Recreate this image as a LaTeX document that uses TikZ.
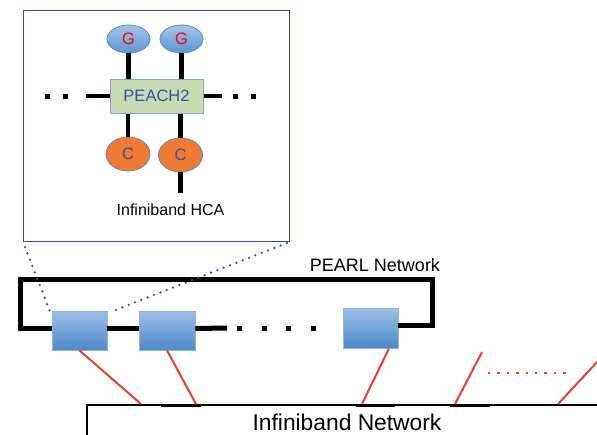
\documentclass[tikz,border=0pt]{standalone}
\usepackage{fontspec}
\setmainfont{Liberation Sans}
\usetikzlibrary{shapes.geometric}
\definecolor{navyb}{HTML}{3A4A98}
\definecolor{gtop}{HTML}{A3C7EC}
\definecolor{gbot}{HTML}{5B95D4}
\definecolor{gedge}{HTML}{5C88C0}
\definecolor{peachfill}{HTML}{C8DAB2}
\definecolor{peachedge}{HTML}{8AA6C6}
\definecolor{cfill}{HTML}{EF7A30}
\definecolor{ctext}{HTML}{2F55A8}
\definecolor{redl}{HTML}{E84030}
\definecolor{ntop}{HTML}{9CC0E6}
\definecolor{nbot}{HTML}{4D89CB}
\definecolor{nedge}{HTML}{8FB4DC}
\tikzset{
  gnode/.style={ellipse, draw=gedge, line width=0.8pt, top color=gtop, bottom color=gbot,
    minimum width=43pt, minimum height=28pt, inner sep=0pt, text=red, font=\fontsize{16.5}{16.5}\selectfont},
  cnode/.style={ellipse, draw=gedge, line width=0.8pt, fill=cfill,
    minimum width=44pt, minimum height=34pt, inner sep=0pt, text=ctext, font=\fontsize{16.5}{16.5}\selectfont},
  peachbox/.style={rectangle, draw=peachedge, line width=1pt, fill=peachfill,
    minimum width=93pt, minimum height=34pt, inner sep=0pt, text=ctext, font=\fontsize{16.5}{16.5}\selectfont},
  pearlnode/.style={rectangle, draw=nedge, line width=0.8pt, top color=ntop, bottom color=nbot,
    minimum width=55pt, minimum height=39pt, inner sep=0pt},
  bar/.style={line width=4.5pt, black},
  ring/.style={line width=5pt, black, line join=miter},
  bigdots/.style={line width=5pt, black, dash pattern=on 5pt off 12.5pt},
  ringdots/.style={line width=5pt, black, dash pattern=on 5pt off 19.7pt},
  navydots/.style={line width=2.5pt, navyb, line cap=round, dash pattern=on 0pt off 6.8pt},
  redline/.style={line width=2pt, redl},
  reddots/.style={line width=2.6pt, redl, dash pattern=on 2.4pt off 7pt},
  label/.style={inner sep=0pt, anchor=base, text=black}
}
\begin{document}
\begin{tikzpicture}[x=1pt,y=-1pt]
\clip (0,0) rectangle (597,434);
\fill[white] (0,0) rectangle (597,434);

% inset box
\draw[navyb, line width=1pt] (23,10) rectangle (289,241);
\coordinate (boxbl) at (25,247);
\coordinate (boxbr) at (287,243);

% inset nodes
\node[peachbox] (p) at (156.5,96) {PEACH2};
\node[gnode] (g1) at (128.5,39) {G};
\node[gnode] (g2) at (181.5,39) {G};
\node[cnode] (c1) at (128,154) {C};
\node[cnode] (c2) at (180.5,155) {C};
\draw[bar] (g1.south) -- (g1.south |- p.north);
\draw[bar] (g2.south) -- (g2.south |- p.north);
\draw[bar] (c1.north) -- (c1.north |- p.south);
\draw[bar] (c2.north) -- (c2.north |- p.south);
\coordinate (hcaend) at (180.5,193);
\draw[bar] (c2.south) -- (hcaend);
\coordinate (pl) at (86,96);
\coordinate (pr) at (222,96);
\draw[bar] (p.west) -- (pl);
\draw[bar] (p.east) -- (pr);
\coordinate (pldots) at (45,96);
\coordinate (pldotsend) at (70,96);
\draw[bigdots] (pldots) -- (pldotsend);
\coordinate (prdots) at (233,96);
\coordinate (prdotsend) at (256,96);
\draw[bigdots] (prdots) -- (prdotsend);
\node[label, font=\fontsize{16}{16}\selectfont] (hca) at (170.5,215) {Infiniband HCA};

% PEARL network
\node[pearlnode] (n1) at (79.5,330.5) {};
\node[pearlnode, minimum width=56pt] (n2) at (167,330.5) {};
\node[pearlnode, minimum height=40pt] (n3) at (370.5,328) {};
\coordinate (rl) at (20,279);
\coordinate (rr) at (432,279);
\draw[ring] ([yshift=2pt]n1.west) -| (rl) -- (rr) |- ([yshift=3pt]n3.east);
\draw[ring] ([yshift=2pt]n1.east) -- ([yshift=2pt]n2.west);
\coordinate (segend) at (227,328);
\draw[ring] ([yshift=2pt]n2.east) -- (segend);
\coordinate (dotstart) at (237,328);
\coordinate (dotend) at (318,328);
\draw[ringdots] (dotstart) -- (dotend);
\node[label, font=\fontsize{18}{18}\selectfont] (pearl) at (375,271) {PEARL Network};

% dotted zoom lines
\draw[navydots] (boxbl) -- ([shift={(-2pt,0pt)}]n1.north west);
\draw[navydots] (boxbr) -- ([shift={(4pt,-1pt)}]n1.north east);

% Infiniband network
\draw[black, line width=1.3pt] (87,440) -- (87,405) -- (610,405);
\foreach \a/\b in {161/201, 356/395, 450/490}
  \draw[black, line width=3pt] (\a,405.8) -- (\b,405.8);
\node[label, font=\fontsize{22.8}{22.8}\selectfont] (ibnet) at (347,430) {Infiniband Network};
\coordinate (ib1) at (141,404);
\coordinate (ib2) at (196,404);
\coordinate (ib3) at (362,404);
\coordinate (ib4) at (455,404);
\coordinate (ib5) at (558,404);
\coordinate (free4) at (482,352);
\coordinate (free5) at (599,360);
\draw[redline] (n1.south) -- (ib1);
\draw[redline] (n2.south) -- (ib2);
\draw[redline] ([xshift=18.5pt]n3.south) -- (ib3);
\draw[redline] (free4) -- (ib4);
\draw[redline] (free5) -- (ib5);
\coordinate (rd1) at (488,373);
\coordinate (rd2) at (566,373);
\draw[reddots] (rd1) -- (rd2);
\end{tikzpicture}
\end{document}
